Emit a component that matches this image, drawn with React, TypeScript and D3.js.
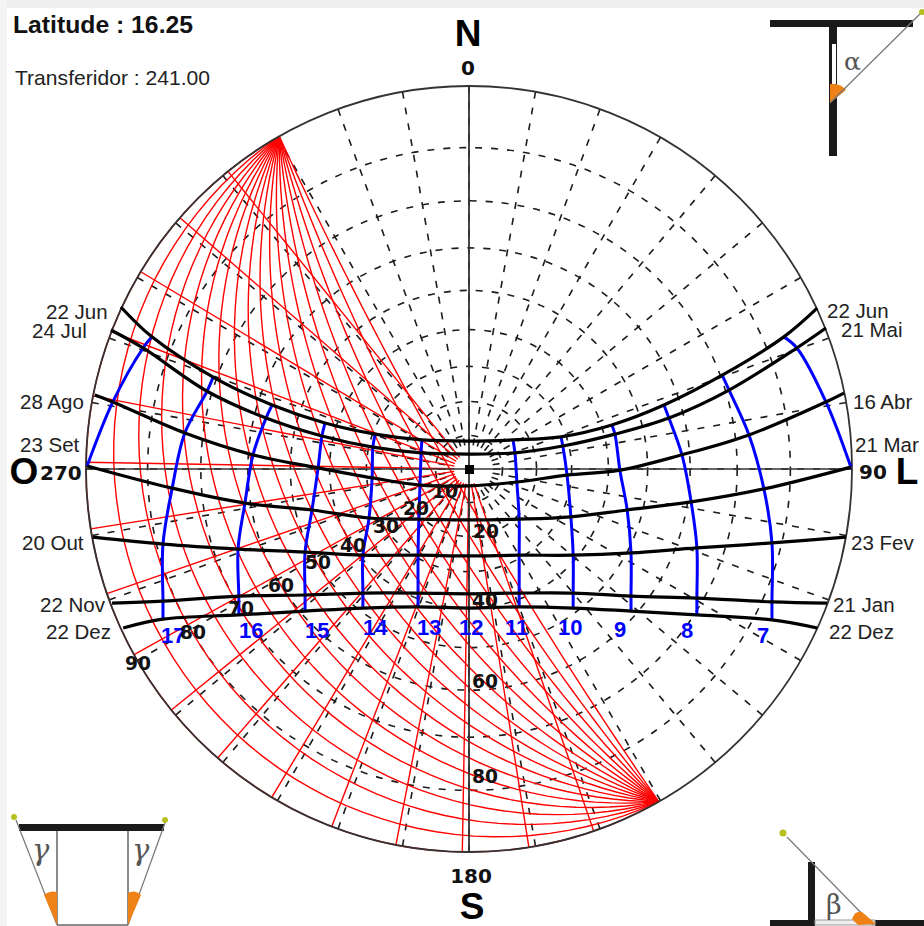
import React from "react";
import * as d3 from "d3";

// Sun path readings, in percent of the horizon radius (east +, north +).
const endH: null = null;
const hoursFull = [endH, 18, 17, 16, 15, 14, 13, 12, 11, 10, 9, 8, 7, 6, endH];
const hoursEquinox = [18, 17, 16, 15, 14, 13, 12, 11, 10, 9, 8, 7, 6];
const hoursWinter = [endH, 17, 16, 15, 14, 13, 12, 11, 10, 9, 8, 7, endH];

const junEast = [-90.9, -82.8, -66.8, -51.4, -37.6, -24.5, -12.3, 0, 11.5, 24.0, 37.3, 50.9, 66.1, 82.2, 90.9];
const junNorth = [42.3, 34.5, 24.0, 16.7, 12.0, 9.1, 7.6, 7.3, 7.6, 8.4, 11.5, 16.7, 24.5, 34.5, 42.0];
const julEast = [-93.5, -85.1, -68.4, -53.0, -38.4, -25.1, -12.5, 0, 12.0, 24.5, 38.1, 52.2, 67.9, 85.6, 93.2];
const julNorth = [36.3, 31.6, 20.3, 13.3, 8.6, 5.7, 4.2, 3.9, 4.2, 6.0, 9.1, 13.3, 20.6, 31.6, 36.8];
const agoEast = [-97.7, -93.0, -74.2, -56.4, -39.4, -25.3, -12.8, 0, 12.5, 25.6, 39.4, 55.6, 73.1, 93.2, 97.9];
const agoNorth = [19.3, 17.5, 9.4, 3.7, 0.3, -2.3, -4.2, -4.4, -3.4, -1.6, -0.3, 3.7, 8.9, 17.5, 19.8];
const setEast = [-99.7, -77.5, -58.5, -41.0, -26.1, -13.1, 0, 13.1, 26.6, 41.3, 58.0, 77.0, 99.7];
const setNorth = [0.8, -5.0, -8.9, -10.7, -12.8, -13.1, -13.3, -13.1, -12.5, -10.7, -8.6, -5.2, 0.5];
const outEast = [-98.2, -79.9, -60.3, -42.8, -27.7, -13.3, 0, 13.1, 27.2, 42.3, 59.5, 79.1, 98.4];
const outNorth = [-17.8, -19.6, -20.9, -21.7, -22.5, -22.5, -22.7, -22.5, -22.5, -21.9, -20.6, -19.3, -17.8];
const novEast = [-93.2, -79.9, -60.1, -42.8, -27.7, -13.3, 0, 13.1, 27.2, 42.3, 59.5, 79.1, 93.5];
const novNorth = [-35.0, -34.5, -33.2, -32.9, -32.4, -32.4, -32.6, -32.4, -32.4, -33.2, -33.7, -34.7, -35.0];
const dezEast = [-90.3, -79.9, -60.1, -42.8, -27.7, -13.3, 0, 13.1, 27.2, 42.3, 59.5, 79.1, 90.9];
const dezNorth = [-41.5, -39.2, -38.1, -37.1, -36.3, -36.0, -36.3, -36.0, -36.3, -37.1, -38.1, -39.4, -41.5];

const dayCurves = [
  { east: junEast, north: junNorth, hours: hoursFull },
  { east: julEast, north: julNorth, hours: hoursFull },
  { east: agoEast, north: agoNorth, hours: hoursFull },
  { east: setEast, north: setNorth, hours: hoursEquinox },
  { east: outEast, north: outNorth, hours: hoursWinter },
  { east: novEast, north: novNorth, hours: hoursWinter },
  { east: dezEast, north: dezNorth, hours: hoursWinter },
];
const hourLines = [6, 7, 8, 9, 10, 11, 13, 14, 15, 16, 17, 18];

const altitudeRings = [10, 20, 30, 40, 50, 60, 70, 80];
const gridAzimuths = d3.range(0, 360, 10);
const protractorAzimuth = 241;
const arcAzimuth = 240.3;
const shadowOffsets = [-80, -70, -60, -50, -40, -30, -20, -10, 0, 10, 20, 30, 40, 50, 60, 70, 80];
const shadowAltitudes = [5, 10, 15, 20, 25, 30, 35, 40, 45, 50, 55, 60, 65, 70, 75, 80, 85, 90];

type Lab = [string, number, number];
const leftDates: Lab[] = [["22 Jun", 46, 319], ["24 Jul", 32, 338], ["28 Ago", 20, 409], ["23 Set", 20, 452], ["20 Out", 22, 550], ["22 Nov", 40, 612], ["22 Dez", 46, 639]];
const rightDates: Lab[] = [["22 Jun", 827, 318], ["21 Mai", 841, 337], ["16 Abr", 853, 409], ["21 Mar", 855, 452], ["23 Fev", 851, 550], ["21 Jan", 833, 612], ["22 Dez", 829, 639]];
const hourLabels: Lab[] = [["7", 757, 643], ["8", 681, 638], ["9", 614, 637], ["10", 558, 635], ["11", 505, 635], ["12", 459, 635], ["13", 417, 635], ["14", 363, 635], ["15", 305, 638], ["16", 239, 638], ["17", 161, 643]];
const alphaLabels: Lab[] = [["10", 432, 498], ["20", 403, 515], ["30", 373, 533], ["40", 340, 552], ["50", 305, 569], ["60", 268, 592], ["70", 228, 615], ["80", 180, 639], ["90", 125, 670]];
const betaLabels: Lab[] = [["20", 473, 538], ["40", 472, 607], ["60", 472, 688], ["80", 472, 783]];

const cx = 469;
const cy = 469;
const R = 383;
const xs = d3.scaleLinear().domain([-100, 100]).range([cx - R, cx + R]);
const ys = d3.scaleLinear().domain([-100, 100]).range([cy + R, cy - R]);
const rad = (alt: number) => R * Math.tan(((90 - alt) * Math.PI) / 360);
const polar = (az: number, r: number): [number, number] => {
  const a = (az * Math.PI) / 180;
  return [cx + r * Math.sin(a), cy - r * Math.cos(a)];
};
const curve = d3.line<[number, number]>().curve(d3.curveCatmullRom.alpha(0.5));
const straight = d3.line<[number, number]>();

function shadowArc(theta: number): string {
  const t = R * Math.tan((theta * Math.PI) / 360);
  const c = (t * t - R * R) / (2 * t);
  const rho = Math.hypot(c, R);
  const phi0 = Math.atan2(R, -c);
  const az = (arcAzimuth * Math.PI) / 180;
  const a = [Math.sin(az), -Math.cos(az)];
  const p = [a[1] * -1, a[0]];
  const pts: [number, number][] = d3.range(0, 61).map((i) => {
    const f = -phi0 + (2 * phi0 * i) / 60;
    return [
      cx + c * a[0] + rho * (Math.cos(f) * a[0] + Math.sin(f) * p[0]),
      cy + c * a[1] + rho * (Math.cos(f) * a[1] + Math.sin(f) * p[1]),
    ];
  });
  return straight(pts) as string;
}

function hourPath(h: number): string {
  const pts: [number, number][] = [];
  dayCurves.forEach((d) => {
    const i = d.hours.indexOf(h as any);
    if (i >= 0) pts.push([xs(d.east[i]), ys(d.north[i])]);
  });
  return curve(pts) as string;
}

const sans = "'Liberation Sans', Arial, sans-serif";
const bold = "'DejaVu Sans', sans-serif";

export default function App() {
  return (
    <svg
      width={924}
      height={926}
      viewBox="0 0 924 926"
      style={{ position: "absolute", left: 0, top: 0, display: "block", background: "#fff" }}
    >
      <rect x={0} y={0} width={924} height={8} fill="#eeeeee" />
      <rect x={0} y={0} width={7} height={926} fill="#f4f4f4" />

      {/* dashed altitude / azimuth grid */}
      <g fill="none" stroke="#1c1c1c" strokeWidth={1.6} strokeDasharray="7 9">
        {altitudeRings.map((a) => (
          <circle key={a} cx={cx} cy={cy} r={rad(a)} />
        ))}
        {gridAzimuths.map((az) => (
          <path key={az} d={straight([polar(az, R), polar(az, 15)]) as string} />
        ))}
      </g>

      {/* red shadow protractor */}
      <g fill="none" stroke="#ff0000" strokeWidth={1.4}>
        {shadowAltitudes.map((t) => (
          <path key={t} d={shadowArc(t)} />
        ))}
        {shadowOffsets.map((o) => (
          <path
            key={o}
            d={straight([polar(protractorAzimuth + o, 15), polar(protractorAzimuth + o, R)]) as string}
          />
        ))}
      </g>

      {/* horizon and axes */}
      <circle cx={cx} cy={cy} r={R} fill="none" stroke="#333" strokeWidth={1.8} />
      <line x1={cx} y1={cy - R} x2={cx} y2={cy + R} stroke="#333" strokeWidth={1.8} />
      <line x1={cx - R} y1={cy} x2={cx + R} y2={cy} stroke="#333" strokeWidth={1.6} />
      <rect x={cx - 4} y={cy - 4} width={9} height={9} fill="#000" />

      {/* hour lines */}
      <g fill="none" stroke="#0000ff" strokeWidth={3}>
        {hourLines.map((h) => (
          <path key={h} d={hourPath(h)} />
        ))}
      </g>

      {/* day curves */}
      <g fill="none" stroke="#000" strokeWidth={3.2}>
        {dayCurves.map((d, i) => (
          <path
            key={i}
            d={curve(d.east.map((e, j) => [xs(e), ys(d.north[j])] as [number, number])) as string}
          />
        ))}
      </g>

      {/* text */}
      <text x={13} y={33} fontFamily={sans} fontWeight="bold" fontSize={23} textLength={180} lengthAdjust="spacingAndGlyphs" fill="#111">
        Latitude : 16.25
      </text>
      <text x={15} y={85} fontFamily={sans} fontSize={21} textLength={195} lengthAdjust="spacingAndGlyphs" fill="#222">
        Transferidor : 241.00
      </text>

      <g fontFamily={sans} fontSize={20.5} fill="#222">
        {[...leftDates, ...rightDates].map(([s, x, y], i) => (
          <text key={i} x={x} y={y}>{s}</text>
        ))}
      </g>
      <g fontFamily={sans} fontSize={22} fontWeight="bold" fill="#0000ff">
        {hourLabels.map(([s, x, y]) => (
          <text key={s} x={x} y={y}>{s}</text>
        ))}
      </g>
      <g fontFamily={bold} fontSize={20} fontWeight="bold" fill="#111">
        {[...alphaLabels, ...betaLabels].map(([s, x, y], i) => (
          <text key={i} x={x} y={y} textLength={s.length * 13} lengthAdjust="spacingAndGlyphs">{s}</text>
        ))}
        <text x={468} y={75} textAnchor="middle">0</text>
        <text x={471} y={883} textAnchor="middle">180</text>
        <text x={40} y={480}>270</text>
        <text x={859} y={479}>90</text>
      </g>
      <g fontFamily={sans} fontSize={37} fontWeight="bold" fill="#000">
        <text x={468} y={46} textAnchor="middle">N</text>
        <text x={472} y={919} textAnchor="middle">S</text>
        <text x={24} y={484} textAnchor="middle">O</text>
        <text x={907} y={484} textAnchor="middle">L</text>
      </g>

      {/* top-right inset */}
      <g>
        <rect x={770} y={20} width={143} height={7} fill="#1a1a1a" />
        <rect x={829} y={27} width={8} height={129} fill="#1a1a1a" />
        <rect x={832} y={44} width={4} height={40} fill="#fff" />
        <path d="M830,103 L830,84 A19,19 0 0 1 846,90 Z" fill="#ee8216" />
        <line x1={830} y1={103} x2={922} y2={12} stroke="#777" strokeWidth={1.2} />
        <circle cx={922} cy={12} r={3} fill="#b8c020" />
        <text x={844} y={70} fontFamily="'DejaVu Serif', serif" fontSize={25} fill="#555">α</text>
      </g>

      {/* bottom-left inset */}
      <g>
        <rect x={19} y={824} width={145} height={7} fill="#1a1a1a" />
        <line x1={57} y1={831} x2={57} y2={925} stroke="#666" strokeWidth={1.5} />
        <line x1={128} y1={831} x2={128} y2={925} stroke="#666" strokeWidth={1.5} />
        <line x1={57} y1={925} x2={128} y2={925} stroke="#666" strokeWidth={1.5} />
        <line x1={57} y1={925} x2={16} y2={820} stroke="#777" strokeWidth={1.2} />
        <line x1={128} y1={925} x2={165} y2={823} stroke="#777" strokeWidth={1.2} />
        <path d="M57,925 L44,895 Q50,890 57,892 Z" fill="#ee8216" />
        <path d="M128,925 L128,893 Q135,889 141,895 Z" fill="#ee8216" />
        <circle cx={14} cy={817} r={3} fill="#b8c020" />
        <circle cx={165} cy={820} r={3} fill="#b8c020" />
        <text x={32} y={860} fontFamily="'DejaVu Serif', serif" fontStyle="italic" fontSize={29} fill="#555">γ</text>
        <text x={132} y={860} fontFamily="'DejaVu Serif', serif" fontStyle="italic" fontSize={29} fill="#555">γ</text>
      </g>

      {/* bottom-right inset */}
      <g>
        <rect x={808} y={862} width={7} height={64} fill="#1a1a1a" />
        <rect x={770} y={920} width={45} height={6} fill="#1a1a1a" />
        <rect x={875} y={920} width={49} height={6} fill="#1a1a1a" />
        <rect x={815} y={920} width={60} height={5} fill="#eee" stroke="#999" strokeWidth={1} />
        <line x1={787} y1={837} x2={873} y2={925} stroke="#777" strokeWidth={1.2} />
        <path d="M852,919 Q855,910 862,912 L876,924 L858,925 Z" fill="#ee8216" />
        <circle cx={783} cy={833} r={3.5} fill="#b8c020" />
        <text x={826} y={914} fontFamily="'DejaVu Serif', serif" fontSize={27} fill="#555">β</text>
      </g>
    </svg>
  );
}
